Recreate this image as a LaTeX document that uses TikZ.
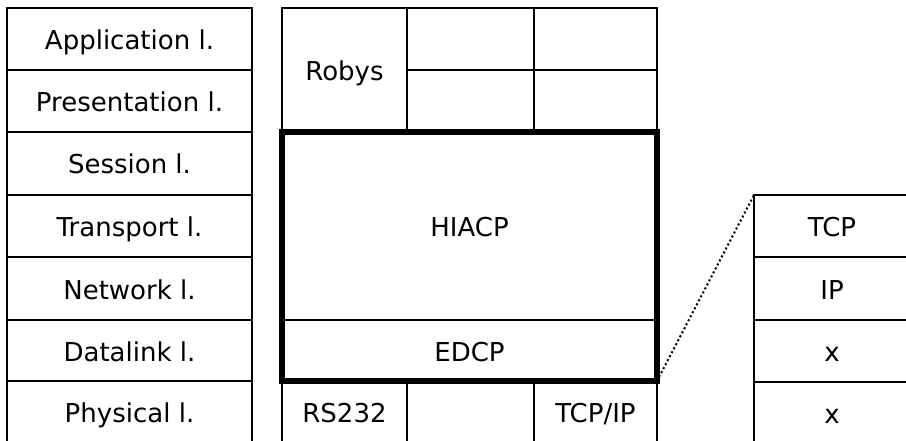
\documentclass[tikz,border=0pt]{standalone}
\usepackage{fontspec}
\setmainfont{DejaVu Sans}
\usepackage{tikz}
\usetikzlibrary{positioning}
\tikzset{
  layer/.style={rectangle, draw, line width=1.5pt, anchor=north west,
    inner sep=0pt, outer sep=0pt, minimum width=245pt},
  cell/.style={rectangle, draw, line width=1.5pt, anchor=north west,
    inner sep=0pt, outer sep=0pt},
  zoomcell/.style={rectangle, draw, line width=1.5pt, anchor=north west,
    inner sep=0pt, outer sep=0pt, minimum width=156pt},
  stackframe/.style={draw, line width=6pt},
  zoomline/.style={line width=2pt, dash pattern=on 2pt off 2.5pt}
}

\begin{document}
\begin{tikzpicture}[x=1pt, y=-1pt, every node/.style={font=\fontsize{26}{30}\selectfont,
    text height=27pt, text depth=6pt}]
  \useasboundingbox (0,0) rectangle (906,441);
  \clip (0,0) rectangle (906,441);

  % OSI reference layers
  \node[layer, minimum height=62pt] (app) at (7,8) {Application l.};
  \node[layer, minimum height=62pt, below=0pt of app] (pres) {Presentation l.};
  \node[layer, minimum height=63pt, below=0pt of pres] (sess) {Session l.};
  \node[layer, minimum height=62pt, below=0pt of sess] (trans) {Transport l.};
  \node[layer, minimum height=63pt, below=0pt of trans] (net) {Network l.};
  \node[layer, minimum height=61pt, below=0pt of net] (dlink) {Datalink l.};
  \node[layer, minimum height=62pt, below=0pt of dlink] (phys) {Physical l.};

  % Protocol stack
  \node[cell, minimum width=125pt, minimum height=124pt] (robys) at (282,8) {Robys};
  \node[cell, minimum width=127pt, minimum height=62pt] (top1) at (407,8) {};
  \node[cell, minimum width=123pt, minimum height=62pt] (top2) at (534,8) {};
  \node[cell, minimum width=127pt, minimum height=62pt] (top3) at (407,70) {};
  \node[cell, minimum width=123pt, minimum height=62pt] (top4) at (534,70) {};
  \node[cell, minimum width=375pt, minimum height=188pt] (hiacp) at (282,132) {HIACP};
  \node[cell, minimum width=375pt, minimum height=61pt] (edcp) at (282,320) {EDCP};
  \node[cell, minimum width=125pt, minimum height=62pt] (rs) at (282,381) {RS232};
  \node[cell, minimum width=127pt, minimum height=62pt] (phymid) at (407,381) {};
  \node[cell, minimum width=123pt, minimum height=62pt] (tcpip) at (534,381) {TCP/IP};
  \draw[stackframe] (hiacp.north west) rectangle (edcp.south east);

  % Zoomed TCP/IP column
  \node[zoomcell, minimum height=62pt] (tcp) at (754,195) {TCP};
  \node[zoomcell, minimum height=63pt, below=0pt of tcp] (ip) {IP};
  \node[zoomcell, minimum height=62pt, below=0pt of ip] (xa) {x};
  \node[zoomcell, minimum height=62pt, below=0pt of xa] (xb) {x};
  \draw[zoomline] (edcp.south east) -- (tcp.north west);
\end{tikzpicture}
\end{document}
